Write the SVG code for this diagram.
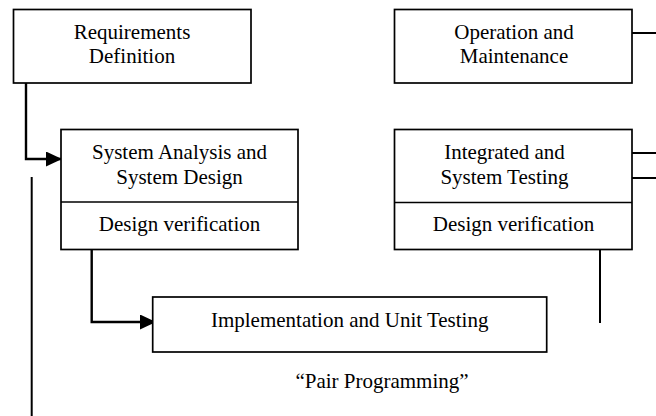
<svg xmlns="http://www.w3.org/2000/svg" width="656" height="416" viewBox="0 0 656 416">
<defs>
<style>
.box{fill:#fff;stroke:#000;stroke-width:1.7}
.div{stroke:#000;stroke-width:1.7}
.t{font-family:"Liberation Serif","Times New Roman",serif;font-size:21px;fill:#000;text-anchor:middle}
.c{fill:none;stroke:#000;stroke-width:2}
.a{fill:none;stroke:#000;stroke-width:2.4}
</style>
<marker id="ah" markerWidth="16" markerHeight="15" refX="16" refY="7.5" orient="auto" markerUnits="userSpaceOnUse">
<path d="M0,0 L16,7.5 L0,15 Z" fill="#000"/>
</marker>
</defs>
<rect width="656" height="416" fill="#fff"/>
<g id="connectors">
<path class="a" d="M26,83 V159 H62" marker-end="url(#ah)"/>
<path class="a" d="M91.7,249 V322 H156" marker-end="url(#ah)"/>
<path class="c" d="M31.7,177 V416"/>
<path class="c" d="M600,249 V323"/>
<path class="c" d="M631,33 H656"/>
<path class="c" d="M631,153 H656"/>
<path class="c" d="M631,178 H656"/>
</g>
<g id="requirements">
<rect class="box" x="13.5" y="9.5" width="237.5" height="73.5"/>
<text class="t" x="132" y="38.5">Requirements</text>
<text class="t" x="132" y="63">Definition</text>
</g>
<g id="system-analysis">
<rect class="box" x="61" y="129.5" width="237" height="120"/>
<line class="div" x1="61" y1="202" x2="298" y2="202"/>
<text class="t" x="179.5" y="158.5">System Analysis and</text>
<text class="t" x="179.5" y="183.5">System Design</text>
<text class="t" x="179.5" y="231">Design verification</text>
</g>
<g id="implementation">
<rect class="box" x="152.7" y="297" width="394" height="55"/>
<text class="t" x="349.7" y="327">Implementation and Unit Testing</text>
</g>
<g id="integrated-testing">
<rect class="box" x="394.5" y="129.5" width="237.5" height="120"/>
<line class="div" x1="394.5" y1="202.5" x2="632" y2="202.5"/>
<text class="t" x="504.5" y="158.5">Integrated and</text>
<text class="t" x="504.5" y="183.5">System Testing</text>
<text class="t" x="513.5" y="231">Design verification</text>
</g>
<g id="operation">
<rect class="box" x="394.5" y="9.5" width="237.5" height="73.5"/>
<text class="t" x="514" y="39">Operation and</text>
<text class="t" x="514" y="63">Maintenance</text>
</g>
<g id="pair-programming">
<text class="t" x="382" y="388">“Pair Programming”</text>
</g>
</svg>
